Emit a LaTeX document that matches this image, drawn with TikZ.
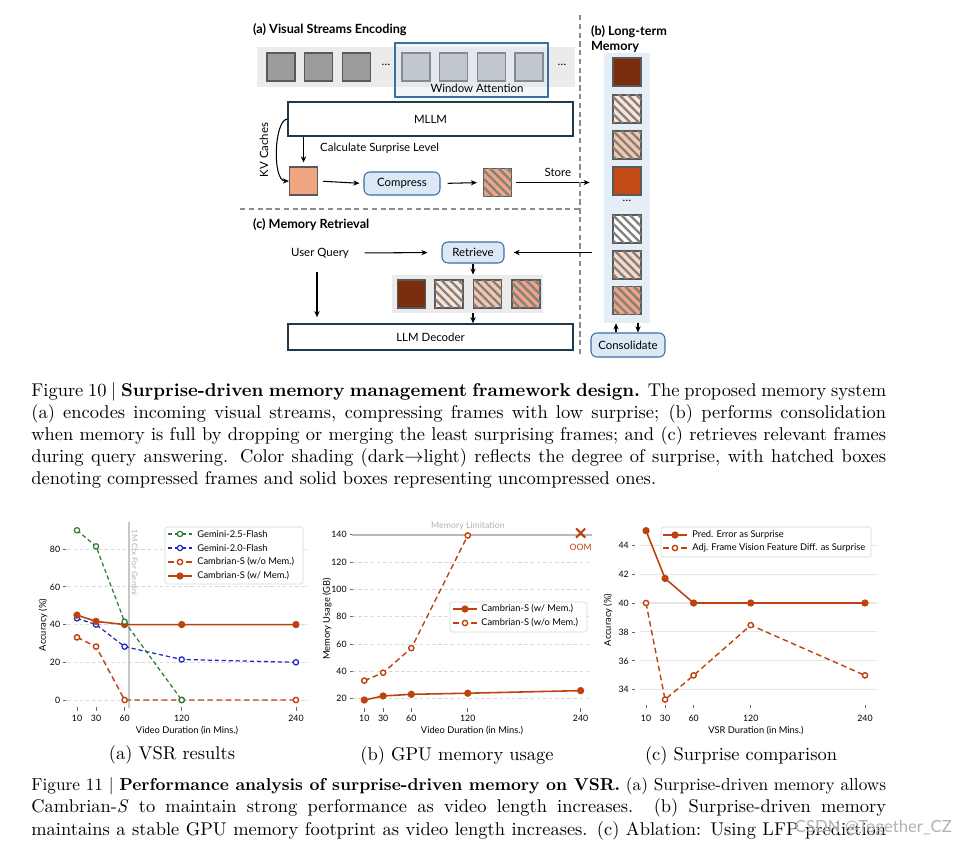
\documentclass[tikz,border=0pt]{standalone}
\usepackage{fontspec}
\setsansfont{Lato}
\usepackage{xcolor}
\usepackage{graphicx}
\usepackage{tikz}
\usetikzlibrary{arrows.meta,positioning,patterns.meta,shapes.misc}
\definecolor{rust}{HTML}{BF420E}
\definecolor{brn}{HTML}{7A2E0E}
\definecolor{org}{HTML}{C24A14}
\definecolor{salm}{HTML}{F0A582}
\definecolor{peach}{HTML}{F6C6AB}
\definecolor{lpeach}{HTML}{FCE3D6}
\definecolor{lpeachb}{HTML}{F9D8C6}
\definecolor{gmgreen}{HTML}{2E7D32}
\definecolor{gmblue}{HTML}{1F27C4}
\definecolor{boxblue}{HTML}{3A6EA5}
\definecolor{lblue}{HTML}{DCE8F5}
\definecolor{colbg}{HTML}{E5EEF7}
\definecolor{band}{HTML}{EBEBEB}
\definecolor{navy}{HTML}{1E3A4E}
\definecolor{frmdk}{HTML}{9C9C9C}
\definecolor{frmlt}{HTML}{B2B6BA}

\begin{document}
\begin{tikzpicture}[x=0.02cm,y=-0.02cm,font=\sffamily\fontsize{6.5}{8}\selectfont,
  arr/.style={-{Stealth[length=3.5pt,width=3pt]},line width=0.6pt},
  frm/.style={draw=black!65,line width=0.6pt,minimum size=0.56cm,inner sep=0pt},
  hatch/.style={postaction={pattern={Lines[angle=-45,distance=3.4pt,line width=1.3pt]},pattern color=black!50}},
  blk/.style={draw=navy,line width=0.8pt,fill=white,inner sep=0pt},
  rbox/.style={draw=boxblue,fill=lblue,rounded corners=0.12cm,line width=0.6pt,inner sep=0pt},
  hd/.style={font=\sffamily\bfseries\fontsize{7.2}{9}\selectfont},
  sep/.style={draw=black!45,line width=0.6pt,dash pattern=on 3pt off 2pt},
  grd/.style={black!15,line width=0.5pt,dash pattern=on 2pt off 1.5pt},
  grdc/.style={black!10,line width=0.6pt},
  tk/.style={black!60,line width=0.5pt},
  tkl/.style={font=\sffamily\fontsize{5}{6}\selectfont,inner sep=1pt},
  axl/.style={font=\sffamily\fontsize{5.3}{6}\selectfont},
  lgl/.style={font=\sffamily\fontsize{5.3}{6}\selectfont,anchor=west,inner sep=0pt},
  lgbox/.style={draw=black!15,fill=white,rounded corners=1pt,line width=0.4pt,inner sep=0pt},
  pgrn/.style={gmgreen,line width=0.7pt,dash pattern=on 2.4pt off 1.6pt,mark=*,mark size=1.5pt,mark options={solid,fill=white}},
  pblu/.style={gmblue,line width=0.7pt,dash pattern=on 2.4pt off 1.6pt,mark=*,mark size=1.5pt,mark options={solid,fill=white}},
  prd/.style={rust,line width=0.8pt,dash pattern=on 3.2pt off 2pt,mark=*,mark size=1.5pt,mark options={solid,fill=white}},
  prs/.style={rust,line width=0.9pt,mark=*,mark size=1.6pt,mark options={fill=rust}},
  subcap/.style={font=\rmfamily\fontsize{10.5}{12}\selectfont},
  capl/.style={anchor=base west,inner sep=0pt,font=\rmfamily\fontsize{10.5}{12.6}\selectfont}]
\useasboundingbox[fill=white] (0,0) rectangle (962,844);

% (a) visual streams
\node[hd,anchor=west] (ha) at (247,30) {(a) Visual Streams Encoding};
\fill[band] (257,47) rectangle (575,87);
\foreach \x/\i in {281/1,318.5/2,356.5/3}
  \node[frm,fill=frmdk] (f\i) at (\x,67) {};
\foreach \x/\i in {416/4,453.5/5,491.5/6,529/7}
  \node[frm,fill=frmlt] (f\i) at (\x,67) {};
\node (dA) at (386,65) {\dots};
\node (dB) at (562,65) {\dots};
\node[draw=boxblue,fill=lblue,fill opacity=0.35,minimum width=3.06cm,minimum height=1.08cm,inner sep=0pt,line width=0.6pt] (win) at (471.5,70) {};
\node (wlbl) at (477,88) {Window Attention};
\node[blk,minimum width=5.7cm,minimum height=0.68cm] (mllm) at (430.5,119) {MLLM};
\node[rotate=90] (kv) at (264,150) {KV Caches};
\node[frm,fill=salm] (cur) at (303.5,181) {};
\node[anchor=west] (csl) at (314,148) {Calculate Surprise Level};
\draw[arr,shorten >=0.08cm] (cur.north |- mllm.south) -- (cur.north);
\draw[arr] (mllm.west) .. controls (274,120) and (272,181) .. (cur.west);
\node[rbox,minimum width=1.52cm,minimum height=0.46cm] (comp) at (402,183.5) {Compress};
\node[frm,fill=salm,hatch] (hq) at (497.5,182.5) {};
\draw[arr,shorten <=0.1cm,shorten >=0.08cm] (cur.east) -- (comp.west);
\draw[arr,shorten <=0.14cm,shorten >=0.12cm] (comp.east) -- (hq.west);

% (b) long-term memory
\node[hd,anchor=north west,align=left] (hb) at (585,19) {(b) Long-term\\Memory};
\node[fill=colbg,minimum width=0.92cm,minimum height=5.4cm,inner sep=0pt] (mcol) at (627,188) {};
\foreach \y/\c/\h/\i in {72/brn/0/1,109/lpeach/1/2,145/peach/1/3,181/org/0/4,229/white/1/5,265/lpeachb/1/6,300.5/salm/1/7}{
  \ifnum\h=1 \node[frm,fill=\c,hatch] (m\i) at (627,\y) {};
  \else \node[frm,fill=\c] (m\i) at (627,\y) {}; \fi
}
\node (mdots) at (627,201) {\dots};
\node[rbox,minimum width=1.48cm,minimum height=0.48cm] (cons) at (628,345) {Consolidate};
\draw[arr] ([xshift=-0.24cm]cons.north) -- ([xshift=-0.24cm]cons.north |- mcol.south);
\draw[arr] ([xshift=0.2cm]cons.north |- mcol.south) -- ([xshift=0.2cm]cons.north);
\draw[arr,shorten <=0.08cm,shorten >=0.28cm] (hq.east) -- (hq.east -| mcol.west) node[midway,above] (st) {Store};

\draw[sep] (580,15) -- (580,357);
\draw[sep] (240,209) -- (580,209);

% (c) memory retrieval
\node[hd,anchor=west] (hc) at (247,225) {(c) Memory Retrieval};
\node (uq) at (320,253) {User Query};
\node[rbox,minimum width=1.24cm,minimum height=0.42cm] (ret) at (473,252.5) {Retrieve};
\draw[arr,shorten <=0.19cm,shorten >=0.28cm] (uq.east) -- (ret.west);
\draw[arr,shorten <=0.24cm,shorten >=0.18cm] (mcol.west |- ret.east) -- (ret.east);
\node[fill=band,minimum width=3.02cm,minimum height=0.76cm,inner sep=0pt] (rband) at (467.5,294) {};
\foreach \x/\c/\h/\i in {411.5/brn/0/1,449/lpeach/1/2,487.5/peach/1/3,526/salm/1/4}{
  \ifnum\h=1 \node[frm,fill=\c,hatch] (r\i) at (\x,294) {};
  \else \node[frm,fill=\c] (r\i) at (\x,294) {}; \fi
}
\node[blk,minimum width=5.7cm,minimum height=0.52cm] (llm) at (430.5,337) {LLM Decoder};
\draw[arr] (ret.south) -- (ret.south |- rband.north);
\draw[arr] (ret.south |- rband.south) -- (ret.south |- llm.north);
\draw[arr,shorten <=0.16cm,shorten >=0.12cm] ([xshift=-0.06cm]uq.south) -- ([xshift=-0.06cm]uq.south |- llm.north);

% captions of figure 10
\node[capl] (c10a) at (31,396) {\hbox to 17.1cm{Figure 10 | \textbf{Surprise-driven memory management framework design.} The proposed memory system}};
\node[capl] (c10b) at (31,418) {\hbox to 17.1cm{(a) encodes incoming visual streams, compressing frames with low surprise; (b) performs consolidation}};
\node[capl] (c10c) at (31,440.5) {\hbox to 17.1cm{when memory is full by dropping or merging the least surprising frames; and (c) retrieves relevant frames}};
\node[capl] (c10d) at (31,462.5) {\hbox to 17.1cm{during query answering. Color shading (dark$\rightarrow$light) reflects the degree of surprise, with hatched boxes}};
\node[capl] (c10e) at (31,484) {denoting compressed frames and solid boxes representing uncompressed ones.};

% chart (a)
\begin{scope}[shift={(67.48,700)},x=0.01904cm,y=0.03772cm]
\foreach \v in {0,20,40,60,80}{
  \draw[grd] (0,\v) -- (252,\v);
  \draw[tk] (-4.5,\v) -- (-1.5,\v);
  \node[tkl,anchor=east] (ay\v) at (-5.5,\v) {\v};
}
\foreach \m in {10,30,60,120,240}{
  \draw[tk] (\m,-3.8) -- (\m,-5.8);
  \node[tkl] (ax\m) at (\m,-9.6) {\m};
}
\draw[black!22,line width=0.9pt] (64.6,94.4) -- (64.6,-4.2);
\node[rotate=-90,anchor=south west,inner sep=0pt,text=black!30,font=\sffamily\fontsize{4.5}{5}\selectfont] (ctx) at (67.3,90.5) {1M Ctx For Gemini};
\draw[prd] plot coordinates {(10,33.2) (30,28.3) (60,0) (120,0) (240,0)};
\draw[pblu] plot coordinates {(10,43.3) (30,40) (60,28.3) (120,21.5) (240,20)};
\draw[prs] plot coordinates {(10,45) (30,41.7) (60,40) (120,40) (240,40)};
\draw[pgrn] plot coordinates {(10,90) (30,81.5) (60,41.5) (120,0)};
\end{scope}
\node[axl,rotate=90] (aylab) at (43,625) {Accuracy (\%)};
\node[axl] (axlab) at (187,731) {Video Duration (in Mins.)};
\node[lgbox,minimum width=2.76cm,minimum height=1.14cm] (lga) at (234,555.5) {};
\foreach \y/\s/\t/\i in {534/pgrn/{Gemini-2.5-Flash}/1,548/pblu/{Gemini-2.0-Flash}/2,562/prd/{Cambrian-S (w/o Mem.)}/3,576/prs/{Cambrian-S (w/ Mem.)}/4}{
  \draw[\s,mark indices={2}] plot coordinates {(168,\y) (180,\y) (192,\y)};
  \node[lgl] (la\i) at (197,\y) {\t};
}
\node[subcap] (sca) at (172,755) {(a) VSR results};

% chart (b)
\begin{scope}[shift={(354.9,726)},x=0.01882cm,y=0.027334cm]
\foreach \v in {20,40,60,80,100,120}
  \draw[grd] (-3,\v) -- (252,\v);
\foreach \v in {20,40,60,80,100,120,140}{
  \draw[tk] (-5,\v) -- (-2.5,\v);
  \node[tkl,anchor=east] (by\v) at (-6.5,\v) {\v};
}
\foreach \m in {10,30,60,120,240}{
  \draw[tk] (\m,13) -- (\m,10.5);
  \node[tkl] (bx\m) at (\m,5.9) {\m};
}
\draw[black!28,line width=1pt] (-3,140) -- (252,140);
\node[text=black!30,font=\sffamily\fontsize{5}{6}\selectfont] (mlim) at (120.2,146.5) {Memory Limitation};
\draw[prd] plot coordinates {(10,33.2) (30,39) (60,57) (120,139.5)};
\draw[prs] plot coordinates {(10,19) (30,22) (60,23.2) (120,24) (240,25.9)};
\node[cross out,draw=rust,line width=1.2pt,minimum size=4pt,inner sep=0pt] (oomx) at (240,141.2) {};
\node[tkl,text=rust] (oom) at (240,130.8) {OOM};
\end{scope}
\node[axl,rotate=90] (bylab) at (327,619) {Memory Usage (GB)};
\node[axl] (bxlab) at (472,731) {Video Duration (in Mins.)};
\node[lgbox,minimum width=2.74cm,minimum height=0.6cm] (lgb) at (518.5,617) {};
\foreach \y/\s/\t/\i in {609/prs/{Cambrian-S (w/ Mem.)}/1,623/prd/{Cambrian-S (w/o Mem.)}/2}{
  \draw[\s,mark indices={2}] plot coordinates {(453,\y) (465,\y) (477,\y)};
  \node[lgl] (lb\i) at (481,\y) {\t};
}
\node[subcap] (scb) at (457,756) {(b) GPU memory usage};

% chart (c)
\begin{scope}[shift={(636.5,1181.7)},x=0.01904cm,y=0.2894cm]
\foreach \v in {34,36,38,40,42,44}{
  \draw[grdc] (3.5,\v) -- (252.5,\v);
  \draw[tk] (-4.7,\v) -- (-1.5,\v);
  \node[tkl,anchor=east] (cy\v) at (-6,\v) {\v};
}
\foreach \m in {10,30,60,120,240}{
  \draw[tk] (\m,32.95) -- (\m,32.75);
  \node[tkl] (cx\m) at (\m,32.05) {\m};
}
\draw[prd] plot coordinates {(10,40) (30,33.33) (60,35) (120,38.47) (240,35)};
\draw[prs] plot coordinates {(10,45) (30,41.7) (60,40) (120,40) (240,40)};
\end{scope}
\node[axl,rotate=90] (cylab) at (608,620) {Accuracy (\%)};
\node[axl] (cxlab) at (756,731) {VSR Duration (in Mins.)};
\node[lgbox,minimum width=4.2cm,minimum height=0.6cm] (lgc) at (766,542) {};
\foreach \y/\s/\t/\i in {535/prs/{Pred. Error as Surprise}/1,548/prd/{Adj. Frame Vision Feature Diff. as Surprise}/2}{
  \draw[\s,mark indices={2}] plot coordinates {(663,\y) (675,\y) (687,\y)};
  \node[lgl] (lc\i) at (692,\y) {\t};
}
\node[subcap] (scc) at (741,756) {(c) Surprise comparison};

% captions of figure 11
\node[capl] (c11a) at (31,790.5) {\resizebox{17.1cm}{!}{Figure 11 | \textbf{Performance analysis of surprise-driven memory on VSR.} (a) Surprise-driven memory allows}};
\node[capl] (c11b) at (31,812.5) {\hbox to 17.1cm{Cambrian-\textit{S} to maintain strong performance as video length increases.  (b) Surprise-driven memory}};
\node[capl] (c11c) at (31,835) {\hbox to 17.1cm{maintains a stable GPU memory footprint as video length increases. (c) Ablation: Using LFP prediction}};
\node[anchor=base east,text=black!30,font=\sffamily\fontsize{9.5}{10}\selectfont] (wm) at (958,832) {CSDN @Together\_CZ};
\end{tikzpicture}
\end{document}
